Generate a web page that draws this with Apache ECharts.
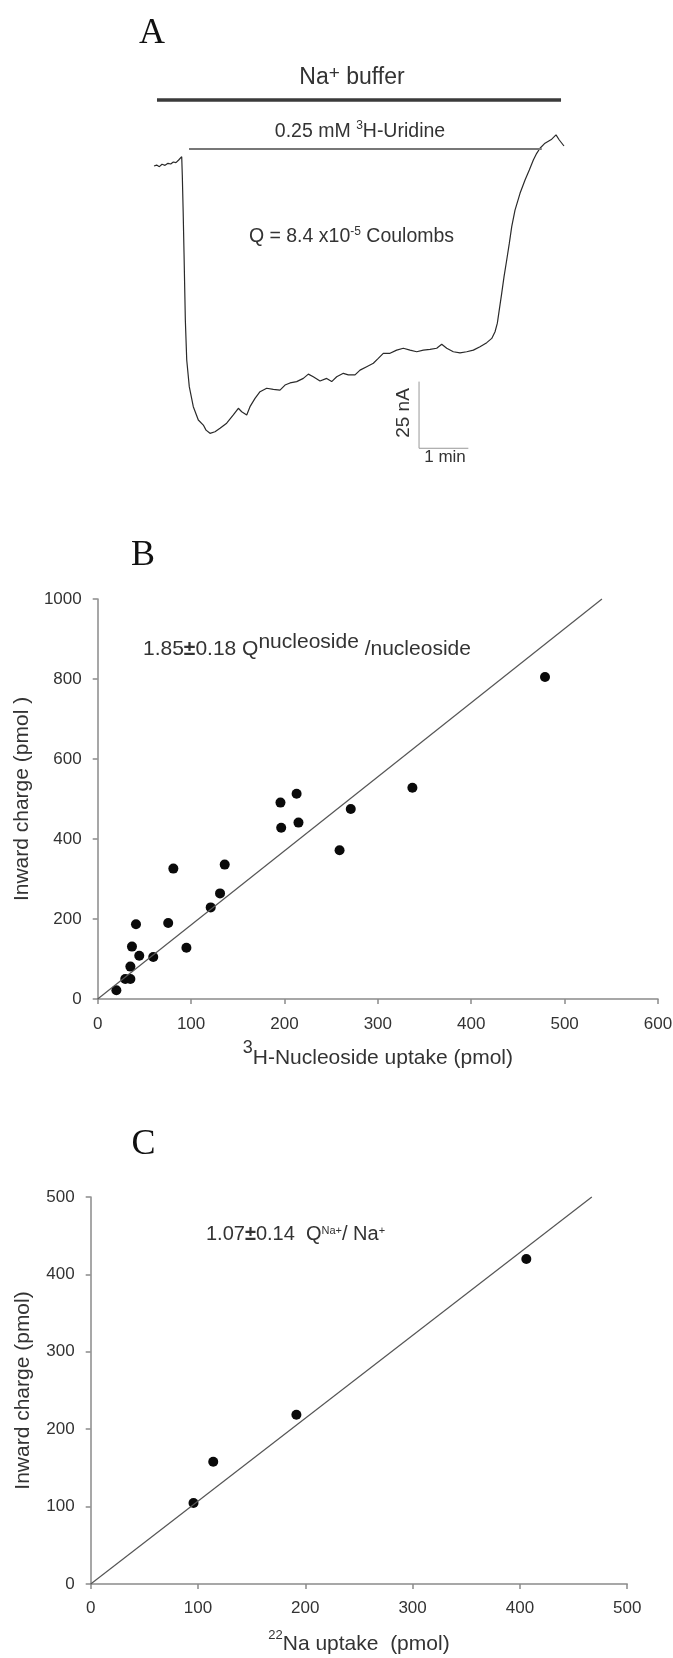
<!DOCTYPE html>
<html><head><meta charset="utf-8">
<script src="https://cdn.jsdelivr.net/npm/echarts@6/dist/echarts.min.js"></script>
<style>html,body{margin:0;padding:0;background:#fff}#c{width:673px;height:1658px}</style>
</head><body><div id="c"></div>
<script>
// ---------- Panel A: current trace (time in s, current in nA) ----------
const traceT = [4.9,8.1,11.4,14.6,18.3,21.9,25.2,28.4,31.6,34.9,37.3,38.6,39.3,40.4,41.4,43.0,44.7,47.8,52.7,58.8,
  64.9,68.2,73.0,79.1,85.2,93.3,101.4,107.5,111.6,117.7,121.7,127.8,133.9,142.0,150.1,158.2,164.3,170.4,178.5,186.6,
  192.7,198.7,206.9,215.0,221.1,227.2,235.3,241.3,249.5,255.6,263.7,271.8,277.8,283.9,292.1,300.2,308.3,316.4,324.6,332.6,
  340.8,348.9,355.0,361.1,369.1,377.3,385.4,393.5,401.6,409.8,415.9,419.9,422.7,425.0,428.0,430.8,434.1,437.3,440.2,444.2,
  450.3,456.4,461.6,466.5,470.6,474.6,480.7,488.9,494.1,498.1,503.8];
const traceI = [-2.25,-1.9,-2.5,-1.6,-2.0,-1.25,-1.5,-0.75,-1.0,0,0.25,1.25,-5.6,-20,-34.9,-60,-75,-85,-92.5,-97.5,
  -99.4,-101.3,-102.5,-101.9,-100.6,-98.7,-95.6,-93.1,-94.4,-95.6,-92.5,-89.4,-86.9,-85.6,-86,-86.3,-84.4,-83.6,-83.1,-81.9,
  -80.3,-81.3,-82.9,-81.9,-83.1,-81.3,-80,-80.6,-80.6,-78.8,-77.5,-76.2,-74.4,-72.5,-72.5,-71.3,-70.6,-71.3,-71.9,-71.3,
  -71,-70.6,-69.1,-70.6,-71.9,-72.3,-71.9,-71.3,-70,-68.5,-66.9,-64.4,-61.2,-56.3,-50,-43.8,-37.5,-31.2,-25,-18.8,
  -12.5,-7.5,-3.75,0,2.5,4.4,6.3,7.8,9.4,7.5,5.25];
const naBufferSpan = [8.5, 500.2];   // s
const naBufferLevel = 22.5;          // nA
const uridineSpan = [47.5, 476.7];   // s
const uridineLevel = 4.1;            // nA
const scaleBarOrigin = [327.4, -108.1];
const scaleBarTime = 60;             // 1 min
const scaleBarCurrent = 25;          // 25 nA

// ---------- Panel B ----------
const bUptake = [20,29.5,35,35,36.7,41,44.5,59.5,75.5,81,95,121,131,136,195.7,196.5,213,215,259,271,337,479];
const bCharge = [22,50,50,81,131,187,108,105,190,326,128,229,264,336,491,428,513,441,372,475,528,805];
const bFit = [[0,0],[540,1000]];

// ---------- Panel C ----------
const cUptake = [95.8,114.2,191.7,406];
const cCharge = [104.6,158,218.7,420];
const cFit = [[0,0],[467,500]];

const SANS = "'Liberation Sans', Arial, sans-serif";
const SERIF = "'Liberation Serif', 'Times New Roman', serif";
const zip = (a, b) => a.map((v, i) => [v, b[i]]);
const plain = (v) => String(v);

const label = (margin) => ({fontSize: 17, color: '#333', fontFamily: SANS, margin: margin,
  showMinLabel: true, showMaxLabel: true, formatter: plain});

const axisCommon = (extra) => Object.assign({
  type: 'value',
  axisLine: {show: true, onZero: false, lineStyle: {color: '#8a8a8a', width: 1.5}},
  axisTick: {show: true, inside: false, length: 5, lineStyle: {color: '#8a8a8a', width: 1.5}},
  splitLine: {show: false},
  nameLocation: 'middle',
  nameTextStyle: {fontSize: 21, color: '#333', fontFamily: SANS}
}, extra);

const chart = echarts.init(document.getElementById('c'), null, {renderer: 'canvas'});
const option = {
  animation: false,
  backgroundColor: '#fff',
  grid: [
    {left: 150, top: 53.33, width: 427.3, height: 426.67, containLabel: false, outerBoundsMode: 'none'},
    {left: 97.7, top: 599, width: 560.3, height: 400, containLabel: false, outerBoundsMode: 'none'},
    {left: 90.7, top: 1197, width: 536.5, height: 387, containLabel: false, outerBoundsMode: 'none'}
  ],
  xAxis: [
    {type: 'value', gridIndex: 0, min: 0, max: 520, show: false},
    axisCommon({gridIndex: 1, min: 0, max: 600, interval: 100, axisLabel: label(17),
      name: '{sup|3}{m|H-Nucleoside uptake (pmol)}', nameGap: 40,
      nameTextStyle: {fontSize: 21, color: '#333', fontFamily: SANS,
        rich: {m: {fontSize: 21, color: '#333', fontFamily: SANS},
               sup: {fontSize: 18, color: '#333', fontFamily: SANS, padding: [0, 0, 20, 0]}}}}),
    axisCommon({gridIndex: 2, min: 0, max: 500, interval: 100, axisLabel: label(16),
      name: '{sup|22}{m|Na uptake  (pmol)}', nameGap: 45,
      nameTextStyle: {fontSize: 21, color: '#333', fontFamily: SANS,
        rich: {m: {fontSize: 21, color: '#333', fontFamily: SANS},
               sup: {fontSize: 13, color: '#333', fontFamily: SANS, padding: [0, 0, 18, 0]}}}})
  ],
  yAxis: [
    {type: 'value', gridIndex: 0, min: -120, max: 40, show: false},
    axisCommon({gridIndex: 1, min: 0, max: 1000, interval: 200, axisLabel: label(16),
      name: 'Inward charge (pmol )', nameGap: 62, nameRotate: 90}),
    axisCommon({gridIndex: 2, min: 0, max: 500, interval: 100, axisLabel: label(16),
      name: 'Inward charge (pmol)', nameGap: 57, nameRotate: 90})
  ],
  series: [
    {type: 'line', xAxisIndex: 0, yAxisIndex: 0, data: zip(traceT, traceI), symbol: 'none', clip: false,
      lineStyle: {color: '#2a2a2a', width: 1.2}, silent: true},
    {type: 'line', xAxisIndex: 0, yAxisIndex: 0, symbol: 'none', clip: false, silent: true,
      data: [[naBufferSpan[0], naBufferLevel], [naBufferSpan[1], naBufferLevel]],
      lineStyle: {color: '#3a3a3a', width: 3.5}},
    {type: 'line', xAxisIndex: 0, yAxisIndex: 0, symbol: 'none', clip: false, silent: true,
      data: [[uridineSpan[0], uridineLevel], [uridineSpan[1], uridineLevel]],
      lineStyle: {color: '#777', width: 2}},
    {type: 'line', xAxisIndex: 0, yAxisIndex: 0, symbol: 'none', clip: false, silent: true,
      data: [[scaleBarOrigin[0], scaleBarOrigin[1] + scaleBarCurrent], scaleBarOrigin,
             [scaleBarOrigin[0] + scaleBarTime, scaleBarOrigin[1]]],
      lineStyle: {color: '#999', width: 1}},
    {type: 'line', xAxisIndex: 1, yAxisIndex: 1, data: bFit, symbol: 'none', silent: true, clip: false,
      lineStyle: {color: '#555', width: 1.2}},
    {type: 'scatter', xAxisIndex: 1, yAxisIndex: 1, data: zip(bUptake, bCharge), symbolSize: 10,
      itemStyle: {color: '#0a0a0a', opacity: 1}},
    {type: 'line', xAxisIndex: 2, yAxisIndex: 2, data: cFit, symbol: 'none', silent: true, clip: false,
      lineStyle: {color: '#555', width: 1.2}},
    {type: 'scatter', xAxisIndex: 2, yAxisIndex: 2, data: zip(cUptake, cCharge), symbolSize: 10,
      itemStyle: {color: '#0a0a0a', opacity: 1}}
  ],
  graphic: [
    {type: 'text', style: {text: 'A', x: 139, y: 34, fontSize: 36, fontFamily: SERIF, fill: '#111', align: 'left', verticalAlign: 'middle'}},
    {type: 'text', style: {text: 'B', x: 131, y: 556, fontSize: 36, fontFamily: SERIF, fill: '#111', align: 'left', verticalAlign: 'middle'}},
    {type: 'text', style: {text: 'C', x: 131.5, y: 1145, fontSize: 36, fontFamily: SERIF, fill: '#111', align: 'left', verticalAlign: 'middle'}},
    {type: 'text', style: {text: '{m|Na}{s|+}{m| buffer}', x: 352, y: 78, align: 'center', verticalAlign: 'middle',
      rich: {m: {fontSize: 23, fontFamily: SANS, fill: '#333', color: '#333'},
             s: {fontSize: 19, fontFamily: SANS, fill: '#333', color: '#333', padding: [0, 0, 8, 0]}}}},
    {type: 'text', style: {text: '{m|0.25 mM }{s|3}{m|H-Uridine}', x: 360, y: 132, align: 'center', verticalAlign: 'middle',
      rich: {m: {fontSize: 19.5, fontFamily: SANS, fill: '#333', color: '#333'},
             s: {fontSize: 12, fontFamily: SANS, fill: '#333', color: '#333', padding: [0, 0, 12, 0]}}}},
    {type: 'text', style: {text: '{m|Q = 8.4 x10}{s|-5}{m| Coulombs}', x: 351.5, y: 236.5, align: 'center', verticalAlign: 'middle',
      rich: {m: {fontSize: 19.5, fontFamily: SANS, fill: '#333', color: '#333'},
             s: {fontSize: 12, fontFamily: SANS, fill: '#333', color: '#333', padding: [0, 0, 10, 0]}}}},
    {type: 'text', x: 404, y: 413, rotation: Math.PI / 2,
      style: {text: '25 nA', x: 0, y: 0, fontSize: 19, fontFamily: SANS, fill: '#333', align: 'center', verticalAlign: 'middle'}},
    {type: 'text', style: {text: '1 min', x: 445, y: 457.5, fontSize: 17, fontFamily: SANS, fill: '#333', align: 'center', verticalAlign: 'middle'}},
    {type: 'text', style: {text: '{m|1.85}{b|±}{m|0.18 Q}{u|nucleoside}{m| /nucleoside}', x: 143, y: 649.5, align: 'left', verticalAlign: 'middle',
      rich: {m: {fontSize: 21, fontFamily: SANS, fill: '#333', color: '#333'},
             b: {fontSize: 21, fontFamily: SANS, fontWeight: 'bold', fill: '#333', color: '#333'},
             u: {fontSize: 21, fontFamily: SANS, fill: '#333', color: '#333', padding: [0, 0, 14, 0]}}}},
    {type: 'text', style: {text: '{m|1.07}{b|±}{m|0.14  Q}{s|Na+}{m|/ Na}{s|+}', x: 206, y: 1234.5, align: 'left', verticalAlign: 'middle',
      rich: {m: {fontSize: 20, fontFamily: SANS, fill: '#333', color: '#333'},
             b: {fontSize: 20, fontFamily: SANS, fontWeight: 'bold', fill: '#333', color: '#333'},
             s: {fontSize: 11, fontFamily: SANS, fill: '#333', color: '#333', padding: [0, 0, 8, 0]}}}}
  ]
};
chart.setOption(option);
</script>
</body></html>
